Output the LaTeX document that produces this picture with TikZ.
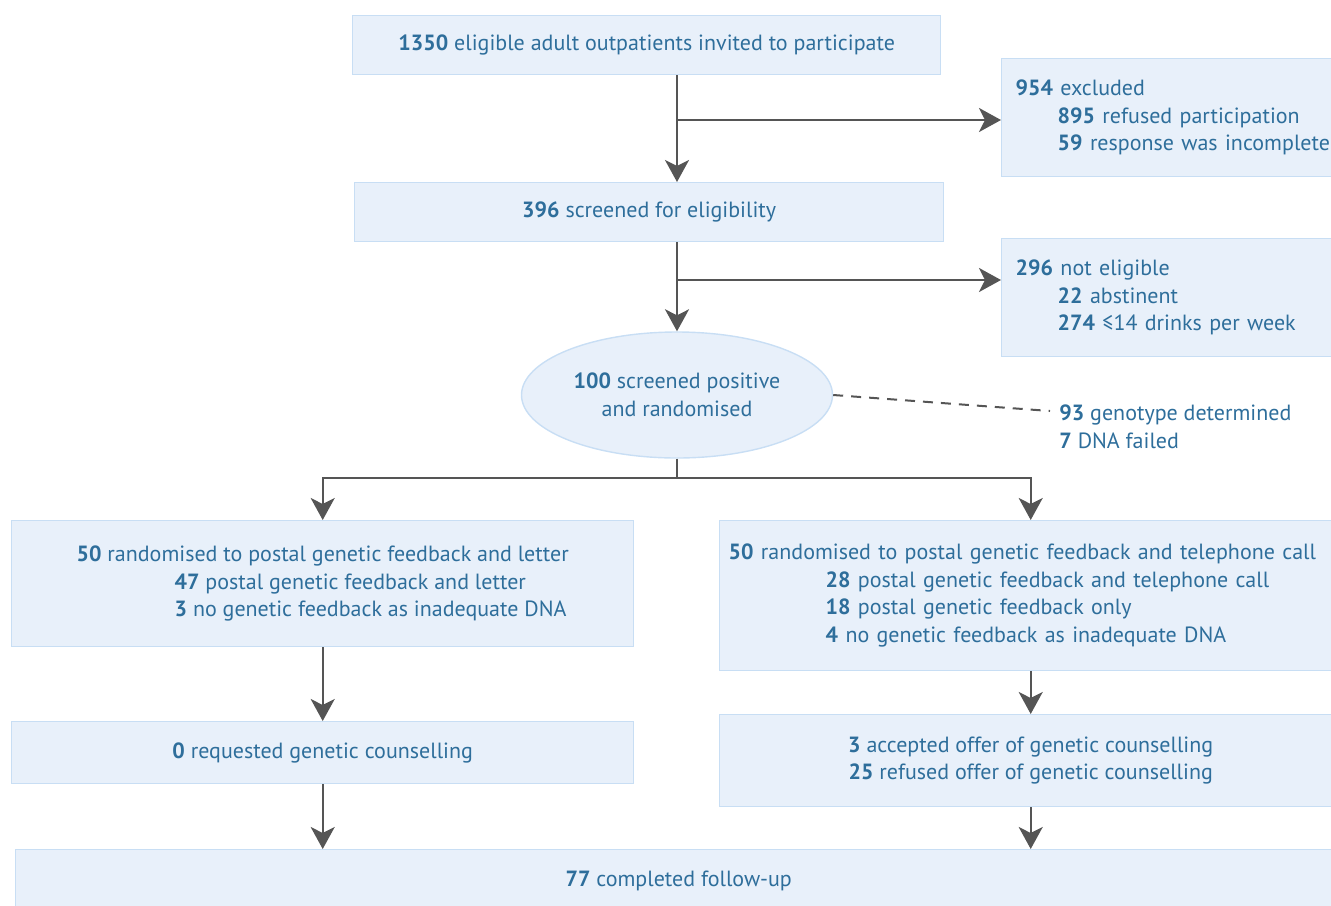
\documentclass[tikz,border=0pt]{standalone}
\usepackage{fontspec}
\setmainfont{PT Sans}
\usetikzlibrary{arrows.meta,shapes.geometric}
\definecolor{boxfill}{RGB}{232,240,250}
\definecolor{boxline}{RGB}{200,222,244}
\definecolor{textblue}{RGB}{46,110,155}
\definecolor{arrowgray}{RGB}{85,85,85}
\tikzset{
  box/.style={draw=boxline, fill=boxfill, line width=0.7pt, text=textblue,
    inner sep=0pt, anchor=north west, font=\fontsize{11}{13.75}\selectfont},
  sidebox/.style={box, align=left, text width=165pt, inner xsep=7pt},
  arr/.style={draw=arrowgray, line width=1.2pt,
    -{Stealth[length=11pt,width=12pt,inset=3pt]}},
  link/.style={draw=arrowgray, line width=1.2pt},
  dashlink/.style={draw=arrowgray, line width=1pt, dash pattern=on 5pt off 4pt}
}
\newcommand{\nb}[1]{\textbf{#1}}
\begin{document}
\begin{tikzpicture}[x=0.5pt,y=-0.5pt]
      \useasboundingbox (0,0) rectangle (1331,905);
      \node[box, minimum width=294pt, minimum height=29.5pt] (invite) at (352,15)
        {\nb{1350} eligible adult outpatients invited to participate};
      \node[box, minimum width=294.5pt, minimum height=29.5pt] (screen) at (354,182)
        {\nb{396} screened for eligibility};
      \node[sidebox, minimum height=59pt] (excl) at (1001,58)
        {\nb{954} excluded\\
         \hspace*{21pt}\nb{895} refused participation\\
         \hspace*{21pt}\nb{59} response was incomplete};
      \node[sidebox, minimum height=59pt] (notel) at (1001,238)
        {\nb{296} not eligible\\
         \hspace*{21pt}\nb{22} abstinent\\
         \hspace*{21pt}\nb{274} ≤14 drinks per week};
      \node[box, ellipse, anchor=center, align=center,
        minimum width=155.5pt, minimum height=63pt] (rand) at (677,395)
        {\nb{100} screened positive\\and randomised};
      \node[text=textblue, align=left, inner sep=0pt, anchor=west,
        font=\fontsize{11}{13.75}\selectfont] (geno) at (1059,427)
        {\nb{93} genotype determined\\\nb{7} DNA failed};
      \node[box, align=left, minimum width=311pt, minimum height=63pt] (postal) at (11,520)
        {\nb{50} randomised to postal genetic feedback and letter\\
         \hspace*{49pt}\nb{47} postal genetic feedback and letter\\
         \hspace*{49pt}\nb{3} no genetic feedback as inadequate DNA};
      \node[box, align=left, text width=302pt, inner xsep=4.5pt,
        minimum height=75pt] (phone) at (719,520)
        {\nb{50} randomised to postal genetic feedback and telephone call\\
         \hspace*{48.5pt}\nb{28} postal genetic feedback and telephone call\\
         \hspace*{48.5pt}\nb{18} postal genetic feedback only\\
         \hspace*{48.5pt}\nb{4} no genetic feedback as inadequate DNA};
      \node[box, minimum width=311pt, minimum height=31pt] (req) at (11,721)
        {\nb{0} requested genetic counselling};
      \node[box, align=center, minimum width=311pt, minimum height=46pt] (offer) at (719,714)
        {\nb{3} accepted offer of genetic counselling\\
         \nb{25} refused offer of genetic counselling};
      \node[box, minimum width=663pt, minimum height=31pt] (final) at (15,849)
        {\nb{77} completed follow-up};
      % branch points
      \coordinate (b1) at (677,120);
      \coordinate (b2) at (677,280);
      \coordinate (split) at (677,478);
      \draw[arr] (invite.south -| rand) -- (screen.north -| rand);
      \draw[arr] (b1) -- (b1 -| excl.west);
      \draw[arr] (screen.south -| rand) -- (rand.north);
      \draw[arr] (b2) -- (b2 -| notel.west);
      \draw[dashlink] (rand.east) -- ([shift={(-4.5pt,8pt)}]geno.west);
      \draw[link] (rand.south) -- (split);
      \draw[arr] (split) -| (postal.north);
      \draw[arr] (split) -| (phone.north);
      \draw[arr] (postal.south) -- (req.north);
      \draw[arr] (phone.south) -- (offer.north);
      \draw[arr] (req.south) -- (req.south |- final.north);
      \draw[arr] (offer.south) -- (offer.south |- final.north);
    \end{tikzpicture}
\end{document}
